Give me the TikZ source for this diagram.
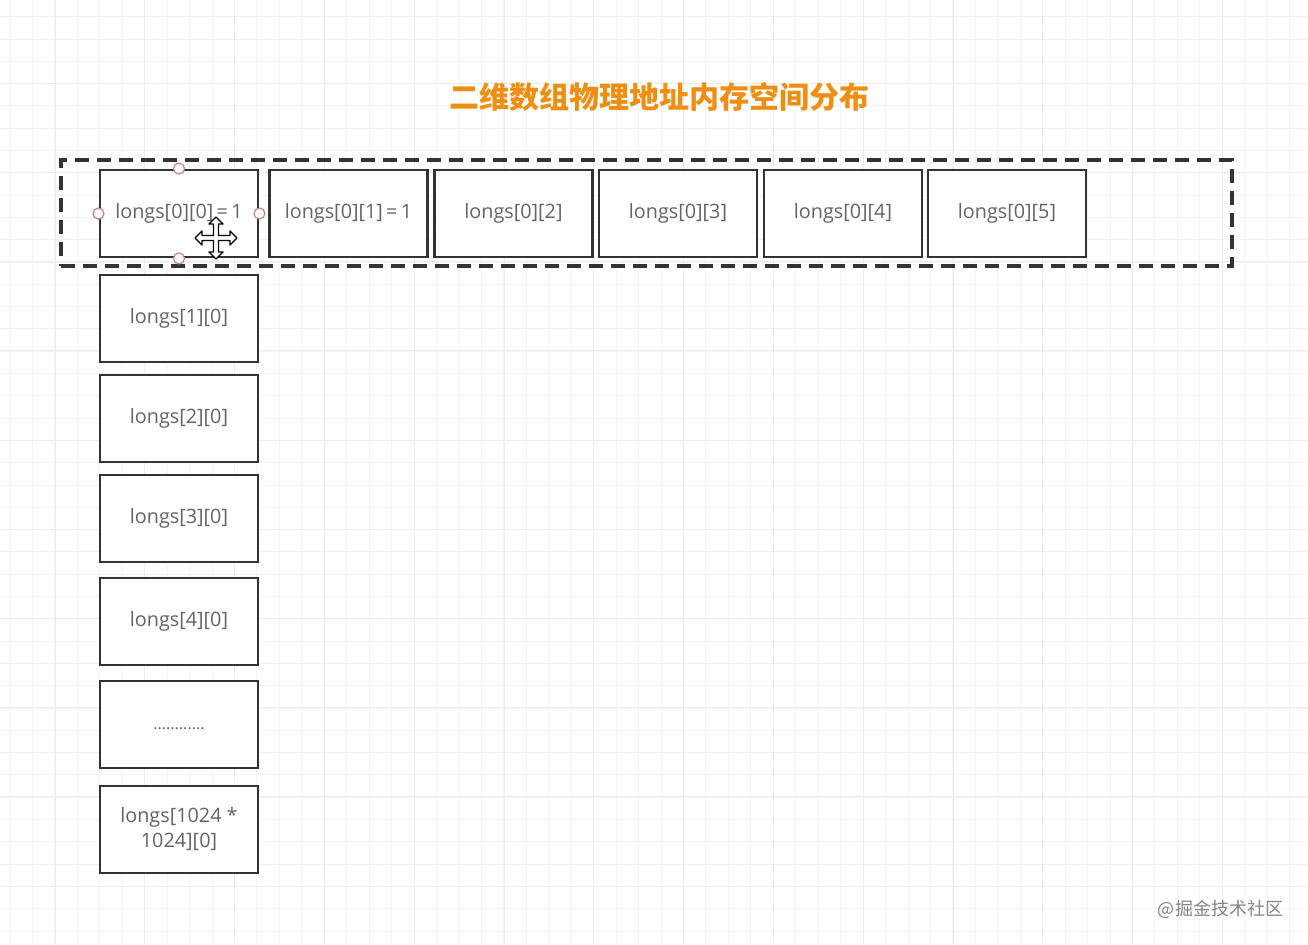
\documentclass[tikz,border=0pt]{standalone}
\usepackage{fontspec}
\setmainfont{Open Sans}
\newfontfamily\cjk{Noto Sans CJK SC}
\definecolor{titleorange}{RGB}{240,142,18}
\definecolor{boxline}{RGB}{51,51,51}
\definecolor{boxtext}{RGB}{100,100,100}
\definecolor{gridminor}{RGB}{244,244,244}
\definecolor{gridmajor}{RGB}{236,236,236}
\definecolor{handle}{RGB}{205,130,130}
\tikzset{
  cell/.style={draw=boxline, line width=1.45pt, fill=white, minimum width=79pt, minimum height=43.5pt,
    inner sep=1pt, align=center, text=boxtext, font=\fontsize{9.9}{12.5}\selectfont},
  selhandle/.style={draw=handle, fill=white, line width=0.6pt, circle, inner sep=0pt, minimum size=5.5pt},
  groupbox/.style={draw=boxline, line width=1.6pt, dash pattern=on 7pt off 4pt}
}
\begin{document}
\begin{tikzpicture}[x=0.5pt,y=-0.5pt]
\useasboundingbox (0,0) rectangle (1308,944);
\fill[white] (0,0) rectangle (1308,944);
% grid
\foreach \i in {0,...,58} {
  \pgfmathsetmacro{\gx}{10+22.45*\i}
  \draw[gridminor, line width=0.5pt] (\gx,0) -- (\gx,944);
}
\foreach \i in {0,...,42} {
  \pgfmathsetmacro{\gy}{16.7+22.3*\i}
  \draw[gridminor, line width=0.5pt] (0,\gy) -- (1308,\gy);
}
\foreach \i in {0,...,14} {
  \pgfmathsetmacro{\gx}{55+89.8*\i}
  \draw[gridmajor, line width=0.5pt] (\gx,0) -- (\gx,944);
}
\foreach \i in {0,...,10} {
  \pgfmathsetmacro{\gy}{83.3+89.2*\i}
  \draw[gridmajor, line width=0.5pt] (0,\gy) -- (1308,\gy);
}
% title
\node[font=\cjk\bfseries\fontsize{15}{18}\selectfont, text=titleorange] (title) at (659,97) {二维数组物理地址内存空间分布};
% group
\node[groupbox, minimum width=585.5pt, minimum height=53pt, inner sep=0pt] (group) at (646.5,213) {};
% row cells
\node[cell] (c00) at (179,213.5) {longs[0][0]\,=\,1};
\node[cell] (c01) at (348.5,213.5) {longs[0][1]\,=\,1};
\node[cell] (c02) at (513.5,213.5) {longs[0][2]};
\node[cell] (c03) at (678,213.5) {longs[0][3]};
\node[cell] (c04) at (843,213.5) {longs[0][4]};
\node[cell] (c05) at (1007,213.5) {longs[0][5]};
% column cells
\node[cell] (c10) at (179,318.5) {longs[1][0]};
\node[cell] (c20) at (179,418.5) {longs[2][0]};
\node[cell] (c30) at (179,518.5) {longs[3][0]};
\node[cell] (c40) at (179,621.5) {longs[4][0]};
\node[cell] (cdots) at (179,724.5) {\raisebox{-5pt}{\fontsize{8}{9}\selectfont............}};
\node[cell] (cN) at (179,829.5) {longs[1024 *\\1024][0]};
% selection handles
\node[selhandle] (hn) at (c00.north) {};
\node[selhandle] (hs) at (c00.south) {};
\node[selhandle] (hw) at (c00.west) {};
\node[selhandle] (he) at (c00.east) {};
% move cursor
\begin{scope}[shift={(216,238)}]
\filldraw[fill=white, draw=black, line width=0.7pt, line join=round]
 (-2.5,-2.5) -- (-2.5,-14) -- (-7,-14) -- (0,-21) -- (7,-14) -- (2.5,-14) -- (2.5,-2.5)
 -- (14,-2.5) -- (14,-7) -- (21,0) -- (14,7) -- (14,2.5) -- (2.5,2.5)
 -- (2.5,14) -- (7,14) -- (0,21) -- (-7,14) -- (-2.5,14) -- (-2.5,2.5)
 -- (-14,2.5) -- (-14,7) -- (-21,0) -- (-14,-7) -- (-14,-2.5) -- cycle;
\end{scope}
% watermark
\node[font=\cjk\fontsize{9}{11}\selectfont, text=black!48] (wm) at (1220.5,909) {@掘金技术社区};
\end{tikzpicture}
\end{document}
